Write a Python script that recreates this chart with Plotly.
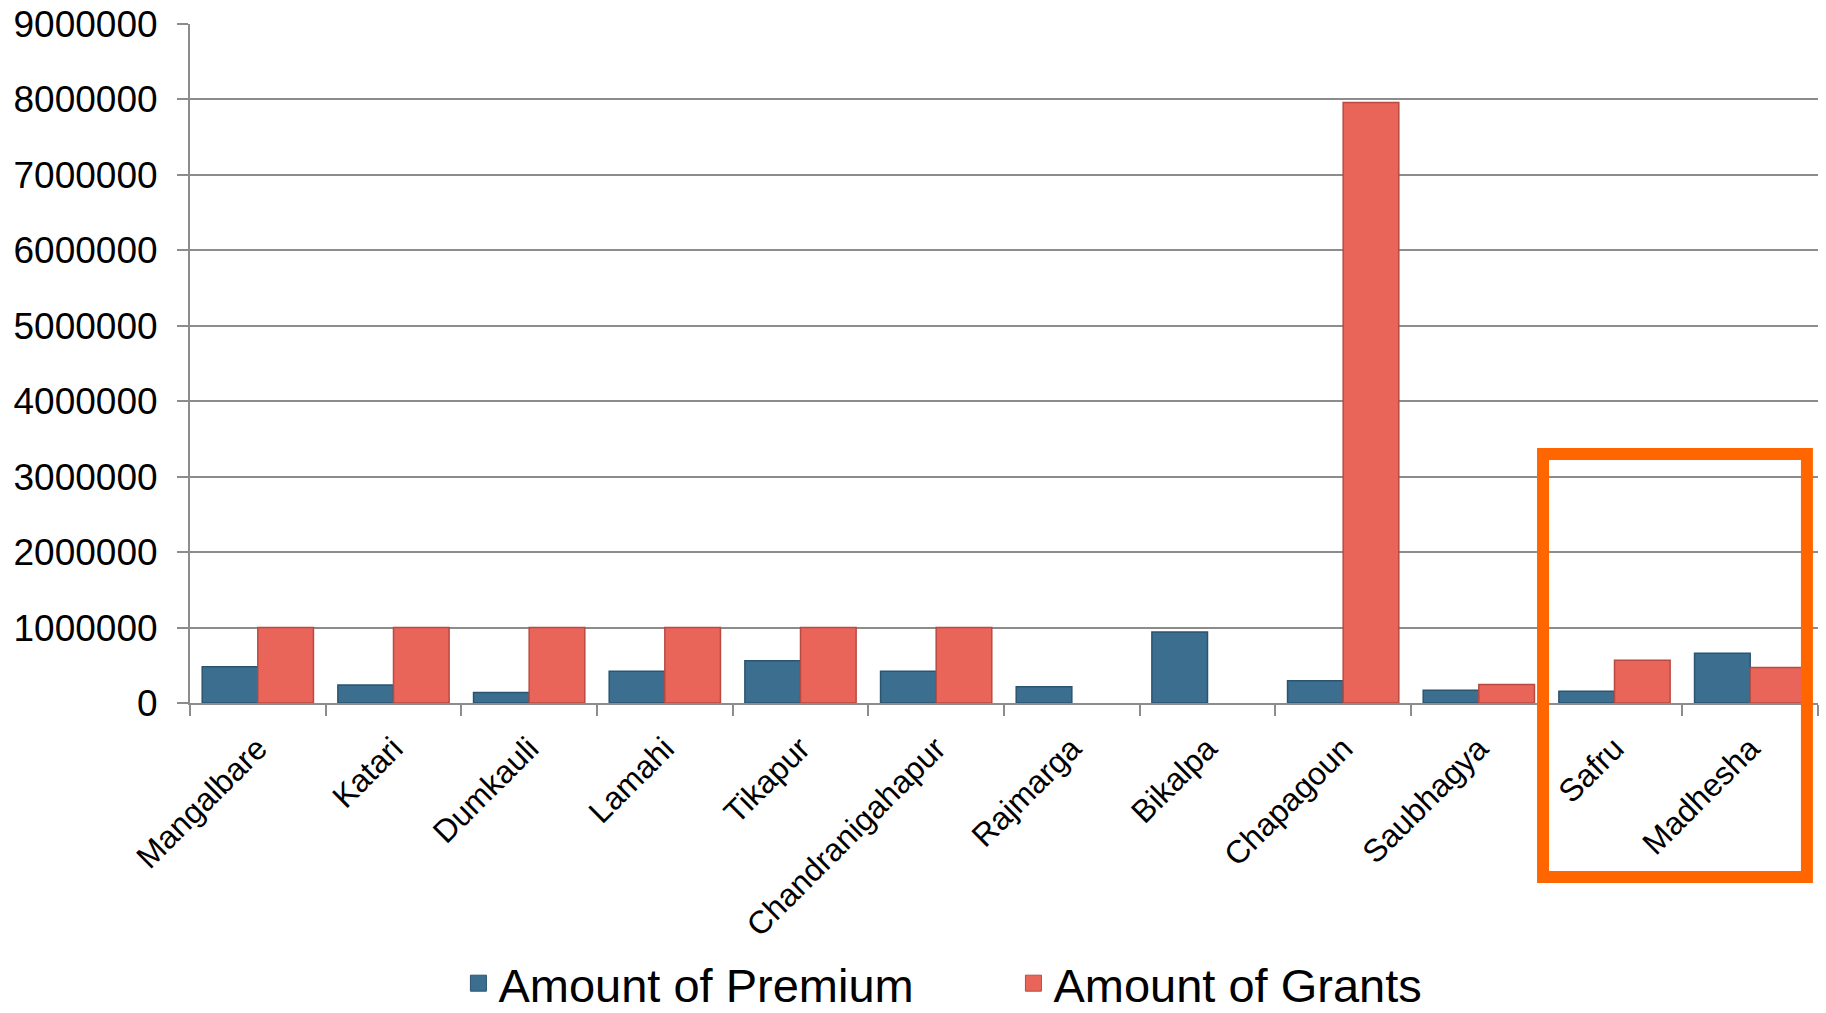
import plotly.graph_objects as go

categories = ["Mangalbare", "Katari", "Dumkauli", "Lamahi", "Tikapur", "Chandranigahapur",
              "Rajmarga", "Bikalpa", "Chapagoun", "Saubhagya", "Safru", "Madhesha"]
premium = [480000, 240000, 140000, 420000, 560000, 420000, 215000, 940000, 295000, 170000, 155000, 660000]
grants = [1000000, 1000000, 1000000, 1000000, 1000000, 1000000, None, None, 7960000, 245000, 565000, 470000]
y_ticks = [0, 1000000, 2000000, 3000000, 4000000, 5000000, 6000000, 7000000, 8000000, 9000000]
series_names = ["Amount of Premium", "Amount of Grants"]

FONT = "Liberation Sans, Arial, sans-serif"
C_PREM = "#3C6E8F"
C_GRANT = "#E9655A"

fig = go.Figure()
fig.add_trace(go.Bar(name=series_names[0], x=categories, y=premium, showlegend=False,
                     marker=dict(color=C_PREM, line=dict(color="#2A5470", width=1.5))))
fig.add_trace(go.Bar(name=series_names[1], x=categories, y=grants, showlegend=False,
                     marker=dict(color=C_GRANT, line=dict(color="#B84A42", width=1.5))))
# legend entries with larger square symbols
fig.add_trace(go.Scatter(name=series_names[0], x=[None], y=[None], mode="markers",
                         marker=dict(symbol="square", size=16, color=C_PREM,
                                     line=dict(color="#2A5470", width=1))))
fig.add_trace(go.Scatter(name=series_names[1], x=[None], y=[None], mode="markers",
                         marker=dict(symbol="square", size=16, color=C_GRANT,
                                     line=dict(color="#B84A42", width=1))))

fig.update_layout(
    width=1826, height=1013,
    margin=dict(l=190, r=8, t=24, b=310, autoexpand=False),
    paper_bgcolor="white", plot_bgcolor="white",
    barmode="group", bargap=0.18, bargroupgap=0,
    font=dict(family=FONT, color="black"),
    showlegend=True,
    legend=dict(orientation="h", x=0.555, xanchor="center", xref="container",
                y=0.029, yanchor="middle", yref="container",
                font=dict(size=47, family=FONT), itemsizing="trace",
                entrywidth=510, entrywidthmode="pixels"),
    xaxis=dict(type="category", tickangle=-45, tickfont=dict(size=32, family=FONT),
               automargin=False, ticklabelstandoff=12,
               showline=True, linecolor="#8C8C8C", linewidth=2,
               ticks="outside", tickson="boundaries", ticklen=11, tickcolor="#8C8C8C", tickwidth=2,
               showgrid=False),
    yaxis=dict(range=[0, 9000000], tickvals=y_ticks, ticktext=[str(v) for v in y_ticks],
               tickfont=dict(size=37, family=FONT), automargin=False, ticklabelstandoff=12,
               showline=True, linecolor="#8C8C8C", linewidth=2,
               ticks="outside", ticklen=11, tickcolor="#8C8C8C", tickwidth=2,
               showgrid=True, gridcolor="#8C8C8C", gridwidth=2, zeroline=False),
    shapes=[dict(type="rect", xref="paper", yref="paper",
                 x0=0.8311, x1=0.9932, y0=-0.2563, y1=0.3667,
                 line=dict(color="#FF6600", width=12), fillcolor="rgba(0,0,0,0)", layer="above")],
)

fig.write_html("out.html")
